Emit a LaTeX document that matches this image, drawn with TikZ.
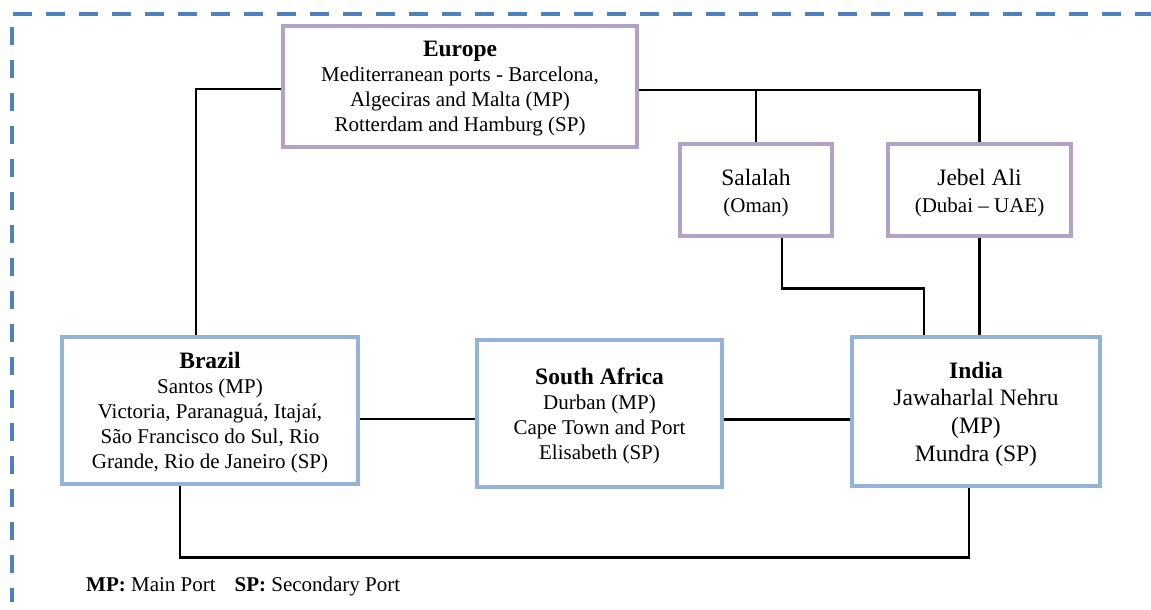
\documentclass[tikz,border=0pt]{standalone}
\usepackage{fontspec}
\setmainfont{Liberation Serif}
\definecolor{frameblue}{RGB}{79,129,189}
\definecolor{boxpurple}{RGB}{178,162,199}
\definecolor{boxblue}{RGB}{149,179,215}
\tikzset{
  pbox/.style={draw=boxpurple, line width=3.2pt, rectangle, inner sep=0pt},
  bbox/.style={draw=boxblue, line width=3.2pt, rectangle, inner sep=0pt},
  txt/.style={align=center, inner sep=0pt, font=\fontsize{21}{25}\selectfont},
  conn/.style={draw=black, line width=2.4pt},
  frameline/.style={draw=frameblue, line width=3.4pt}
}
\newcommand{\ttlfont}{\fontsize{23.5}{25}\selectfont\bfseries}
\begin{document}
\begin{tikzpicture}[x=1pt,y=-1pt]
\useasboundingbox (0,0) rectangle (1151,610);
% dashed frame
\draw[frameline, dash pattern=on 19pt off 14pt] (13,14) -- (1151,14);
\draw[frameline, dash pattern=on 18pt off 15pt] (12,27) -- (12,602);
% boxes
\node[pbox, minimum width=354pt, minimum height=121pt] (europe) at (460,86.5) {};
\node[pbox, minimum width=152pt, minimum height=92pt] (salalah) at (756,190) {};
\node[pbox, minimum width=183pt, minimum height=92pt] (jebel) at (979.5,190) {};
\node[bbox, minimum width=296pt, minimum height=147pt] (brazil) at (210,410.5) {};
\node[bbox, minimum width=245pt, minimum height=147pt] (safrica) at (599.5,413.5) {};
\node[bbox, minimum width=248pt, minimum height=149pt] (india) at (976,411.5) {};
% texts
\node[txt] (europeT) at (460,89) {{\ttlfont Europe}\\Mediterranean ports - Barcelona,\\Algeciras and Malta (MP)\\Rotterdam and Hamburg (SP)};
\node[txt, font=\fontsize{21}{27}\selectfont] (salalahT) at (756,193) {{\fontsize{23.5}{27}\selectfont Salalah}\\(Oman)};
\node[txt, font=\fontsize{21}{27}\selectfont] (jebelT) at (979.5,193) {{\fontsize{23.5}{27}\selectfont Jebel Ali}\\(Dubai – UAE)};
\node[txt] (brazilT) at (210,413) {{\ttlfont Brazil}\\Santos (MP)\\Victoria, Paranaguá, Itajaí,\\São Francisco do Sul, Rio\\Grande, Rio de Janeiro (SP)};
\node[txt] (safricaT) at (599.5,416) {{\ttlfont South Africa}\\Durban (MP)\\Cape Town and Port\\Elisabeth (SP)};
\node[txt, font=\fontsize{23.5}{27.7}\selectfont] (indiaT) at (976,414) {{\bfseries India}\\Jawaharlal Nehru\\(MP)\\Mundra (SP)};
\node[anchor=base west, inner sep=0pt, font=\fontsize{21}{25}\selectfont] (legend) at (86,591) {\textbf{MP:} Main Port\hspace{0.9em}\textbf{SP:} Secondary Port};
% connectors
\path ([yshift=-3.5pt]europe.east) coordinate (eR);
\draw[conn] ([yshift=-2.5pt]europe.west) -| ([xshift=-14pt]brazil.north);
\draw[conn] (eR) -| (jebel.north);
\draw[conn] (salalah.north) -- (salalah.north |- eR);
\draw[conn] ([xshift=26pt]salalah.south) -- ++(0,51) -| ([xshift=-52pt]india.north);
\draw[conn] (jebel.south) -- (jebel.south |- india.north);
\draw[conn] ([yshift=-8.5pt]brazil.east) -- ([yshift=-8.5pt]brazil.east -| safrica.west);
\draw[conn] ([yshift=-6pt]safrica.east) -- ([yshift=-6pt]safrica.east -| india.west);
\draw[conn] ([xshift=-30pt]brazil.south) -- ++(0,72) -| ([xshift=-7pt]india.south);
\end{tikzpicture}
\end{document}
